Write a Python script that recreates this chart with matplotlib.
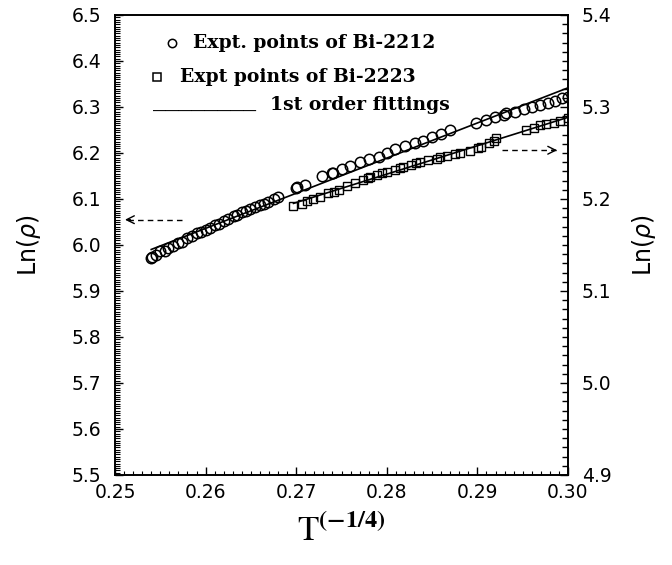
import numpy as np
import matplotlib.pyplot as plt
from matplotlib.ticker import MultipleLocator, FormatStrFormatter

plt.rcParams['mathtext.fontset'] = 'dejavusans'

# Bi-2212, read against the left axis
x_2212 = [0.2540, 0.2541, 0.2545, 0.2550, 0.2555, 0.2559, 0.2564, 0.2570, 0.2574, 0.2579,
          0.2585, 0.2590, 0.2595, 0.2600, 0.2605, 0.2610, 0.2615, 0.2620, 0.2625, 0.2631,
          0.2635, 0.2640, 0.2645, 0.2649, 0.2655, 0.2660, 0.2665, 0.2669, 0.2675, 0.2680,
          0.2700, 0.2701, 0.2710, 0.2728, 0.2739, 0.2741, 0.2750, 0.2759, 0.2770, 0.2780,
          0.2791, 0.2800, 0.2809, 0.2820, 0.2831, 0.2840, 0.2850, 0.2860, 0.2870,
          0.2899, 0.2910, 0.2919, 0.2929, 0.2932, 0.2942, 0.2951, 0.2960, 0.2969, 0.2978,
          0.2986, 0.2993, 0.3000]
ln_rho_2212 = [5.971, 5.975, 5.978, 5.986, 5.988, 5.993, 5.997, 6.004, 6.007, 6.015,
               6.019, 6.026, 6.028, 6.033, 6.037, 6.043, 6.046, 6.053, 6.056, 6.062,
               6.066, 6.071, 6.074, 6.079, 6.082, 6.087, 6.089, 6.094, 6.099, 6.105,
               6.125, 6.127, 6.131, 6.149, 6.157, 6.156, 6.165, 6.171, 6.181, 6.187,
               6.192, 6.200, 6.208, 6.215, 6.221, 6.227, 6.234, 6.242, 6.249,
               6.266, 6.272, 6.278, 6.283, 6.286, 6.290, 6.295, 6.300, 6.304, 6.309,
               6.314, 6.319, 6.321]

# Bi-2223, read against the right axis
x_2223 = [0.2697, 0.2706, 0.2712, 0.2719, 0.2726, 0.2735, 0.2742, 0.2747, 0.2756, 0.2765,
          0.2774, 0.2779, 0.2782, 0.2789, 0.2795, 0.2800, 0.2809, 0.2815, 0.2818, 0.2827,
          0.2832, 0.2837, 0.2846, 0.2855, 0.2859, 0.2866, 0.2875, 0.2881, 0.2892, 0.2901,
          0.2904, 0.2913, 0.2918, 0.2921,
          0.2954, 0.2962, 0.2969, 0.2976, 0.2984, 0.2991, 0.3000]
ln_rho_2223 = [5.192, 5.195, 5.198, 5.200, 5.202, 5.206, 5.208, 5.210, 5.214, 5.217,
               5.221, 5.223, 5.224, 5.226, 5.228, 5.229, 5.232, 5.234, 5.235, 5.237,
               5.239, 5.240, 5.242, 5.244, 5.246, 5.247, 5.249, 5.250, 5.252, 5.255,
               5.256, 5.261, 5.263, 5.266,
               5.275, 5.277, 5.280, 5.282, 5.283, 5.285, 5.288]

legend_labels = ['Expt. points of Bi-2212', 'Expt points of Bi-2223', '1st order fittings']

left_arrow = (0.2574, 0.2511, 6.055)    # tail x, head x, y (left scale)
right_arrow = (0.2927, 0.2988, 5.253)   # tail x, head x, y (right scale)

fig = plt.figure(figsize=(6.72, 5.65), dpi=100)
ax = fig.add_axes([115 / 672, 90 / 565, 453 / 672, 460 / 565])
ax2 = ax.twinx()

serif = dict(fontfamily='DejaVu Serif', fontweight='bold', fontsize=13.5)

# data and linear fits
ax.plot(x_2212, ln_rho_2212, 'o', mfc='none', mec='black', ms=7.5, mew=1.1)
ax2.plot(x_2223, ln_rho_2223, 's', mfc='none', mec='black', ms=6, mew=1.0)

for a, xs, ys in [(ax, x_2212, ln_rho_2212), (ax2, x_2223, ln_rho_2223)]:
    xs = np.asarray(xs)
    k, b = np.polyfit(xs, ys, 1)
    xl = np.array([xs.min(), xs.max()])
    a.plot(xl, k * xl + b, '-', color='black', lw=1.2)

# axes setup
ax.set_xlim(0.25, 0.30)
ax.set_ylim(5.5, 6.5)
ax2.set_ylim(4.9, 5.4)

ax.xaxis.set_major_locator(MultipleLocator(0.01))
ax.xaxis.set_minor_locator(MultipleLocator(0.001))
ax.yaxis.set_major_locator(MultipleLocator(0.1))
ax.yaxis.set_minor_locator(MultipleLocator(0.005))
ax2.yaxis.set_major_locator(MultipleLocator(0.1))
ax2.yaxis.set_minor_locator(MultipleLocator(0.01))
ax.xaxis.set_major_formatter(FormatStrFormatter('%.2f'))
ax.yaxis.set_major_formatter(FormatStrFormatter('%.1f'))
ax2.yaxis.set_major_formatter(FormatStrFormatter('%.1f'))

ax.tick_params(which='both', direction='in', top=False, right=False, labelsize=13.5, width=1)
ax.tick_params(axis='y', which='major', length=6, pad=10)
ax.tick_params(axis='y', which='minor', length=3.5, width=0.8)
ax.tick_params(axis='x', which='major', length=6, pad=5.5)
ax.tick_params(axis='x', which='minor', length=3, width=0.8)
ax2.tick_params(which='both', direction='in', labelsize=13.5, width=1, pad=10)
ax2.tick_params(which='major', length=6)
ax2.tick_params(which='minor', length=4)

for a in (ax, ax2):
    for s in a.spines.values():
        s.set_linewidth(1.2)

ax.set_ylabel(r'Ln($\rho$)', fontsize=17)
ax.yaxis.set_label_coords(-0.159, 0.5)
ax2.set_ylabel(r'Ln($\rho$)', fontsize=17)
ax2.yaxis.set_label_coords(1.137, 0.5)
ax.set_xlabel(r'$\mathrm{T}^{\mathbf{(-1/4)}}$', fontsize=25, math_fontfamily='stix')
ax.xaxis.set_label_coords(0.5, -0.085)

# hand-made legend
ax.plot([0.126], [0.939], 'o', mfc='none', mec='black', ms=6, mew=1.1,
        transform=ax.transAxes, clip_on=False)
ax.text(0.172, 0.939, legend_labels[0], transform=ax.transAxes, va='center', **serif)
ax.plot([0.093], [0.865], 's', mfc='none', mec='black', ms=5.5, mew=1.1,
        transform=ax.transAxes, clip_on=False)
ax.text(0.1435, 0.865, legend_labels[1], transform=ax.transAxes, va='center', **serif)
ax.text(0.084, 0.793, '________', transform=ax.transAxes, va='baseline',
        fontfamily='Liberation Mono', fontweight='bold', fontsize=15.5)
ax.text(0.342, 0.793, legend_labels[2], transform=ax.transAxes, va='baseline', **serif)

# dashed arrows pointing to each scale
for a, (x0, x1, y) in [(ax, left_arrow), (ax2, right_arrow)]:
    a.plot([x0, x1], [y, y], color='black', lw=1, ls=(0, (4, 3)))
    a.annotate('', xy=(x1, y), xytext=(x1 + 0.0006 * np.sign(x0 - x1), y),
               arrowprops=dict(arrowstyle='->', color='black', lw=1,
                               shrinkA=0, shrinkB=0, mutation_scale=14))

fig.savefig('out.png', dpi=100)
